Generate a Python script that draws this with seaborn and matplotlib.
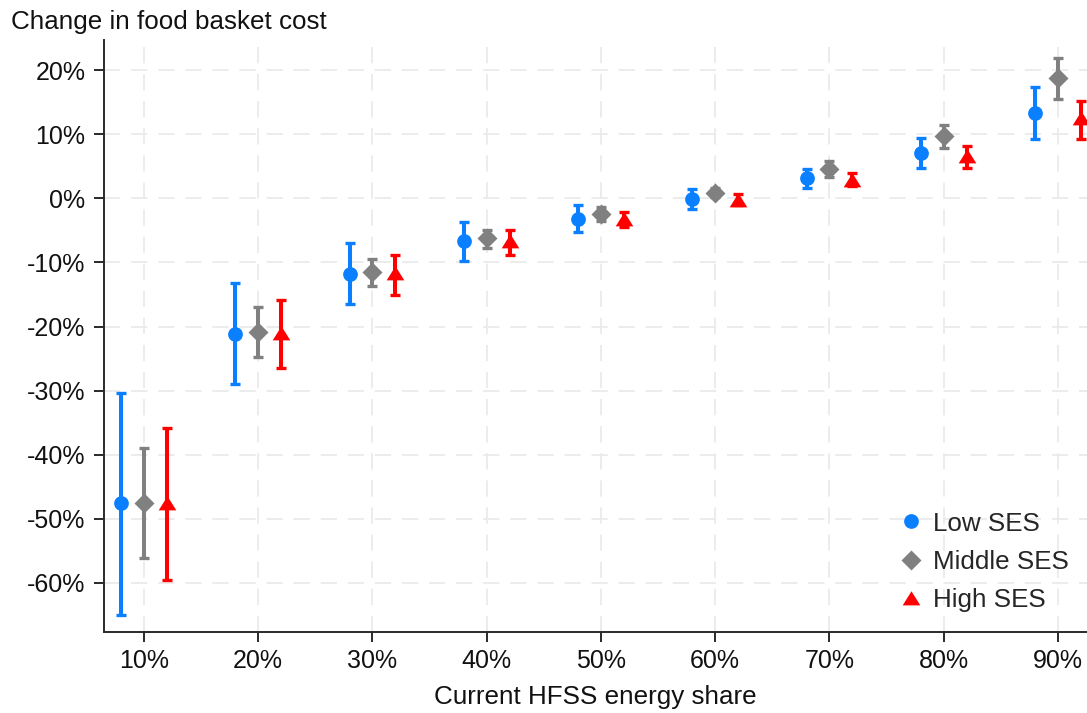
import numpy as np
import pandas as pd
import matplotlib
matplotlib.use("Agg")
import matplotlib.pyplot as plt
import seaborn as sns
from matplotlib.lines import Line2D

# ---- data (percent) ----
shares = [10, 20, 30, 40, 50, 60, 70, 80, 90]
groups = ["Low SES", "Middle SES", "High SES"]

low_est = [-47.6, -21.1, -11.8, -6.7, -3.2, -0.1, 3.1, 7.0, 13.3]
low_lo = [-65.0, -29.0, -16.5, -9.8, -5.2, -1.6, 1.6, 4.8, 9.2]
low_hi = [-30.4, -13.2, -7.0, -3.7, -1.1, 1.4, 4.6, 9.4, 17.4]

mid_est = [-47.5, -20.9, -11.5, -6.2, -2.5, 0.9, 4.6, 9.7, 18.8]
mid_lo = [-56.1, -24.8, -13.7, -7.7, -3.6, 0.2, 3.4, 7.9, 15.5]
mid_hi = [-39.0, -17.0, -9.4, -4.9, -1.3, 1.6, 5.8, 11.4, 21.9]

high_est = [-47.6, -21.0, -11.6, -6.6, -3.2, -0.2, 2.9, 6.6, 12.5]
high_lo = [-59.5, -26.5, -15.0, -8.8, -4.4, -1.0, 1.9, 4.8, 9.3]
high_hi = [-35.8, -15.8, -8.8, -4.9, -2.1, 0.7, 3.9, 8.2, 15.2]

x_ticks = [10, 20, 30, 40, 50, 60, 70, 80, 90]
y_ticks = [-60, -50, -40, -30, -20, -10, 0, 10, 20]

# ---- build table ----
rows = []
for g, est, lo, hi in zip(groups, [low_est, mid_est, high_est],
                          [low_lo, mid_lo, high_lo], [low_hi, mid_hi, high_hi]):
    for s, e, l, h in zip(shares, est, lo, hi):
        rows.append(dict(share=s, group=g, est=e, lo=l, hi=h))
df = pd.DataFrame(rows)

dodge = {"Low SES": -2.0, "Middle SES": 0.0, "High SES": 2.0}
df["xpos"] = df["share"] + df["group"].map(dodge)

tri = [(-1.0, -0.78), (1.0, -0.78), (0.0, 0.82), (-1.0, -0.78)]
palette = {"Low SES": "#0A7FFF", "Middle SES": "#808080", "High SES": "#FF0000"}
markers = {"Low SES": "o", "Middle SES": "D", "High SES": tri}
msizes = {"Low SES": 10.6, "Middle SES": 10.2, "High SES": 12.7}

sns.set_theme(style="white")
plt.rcParams["font.family"] = ["Liberation Sans", "DejaVu Sans"]

FS_LAB = 18.7
FS_TICK = 18.0
TXT = "#111111"

fig = plt.figure(figsize=(10.87, 7.13), dpi=100)
ax = fig.add_axes([104 / 1087, 1 - 631.7 / 713, 1 - 104 / 1087, (631.7 - 40) / 713])

for g in groups:
    d = df[df["group"] == g]
    eb = ax.errorbar(d["xpos"], d["est"],
                     yerr=[d["est"] - d["lo"], d["hi"] - d["est"]],
                     fmt="none", ecolor=palette[g], elinewidth=2.9,
                     capsize=3.9, capthick=2.4, zorder=2)
    for art in eb.lines[1] + eb.lines[2]:
        art.set_clip_on(False)
    sns.scatterplot(data=d, x="xpos", y="est", color=palette[g],
                    marker=markers[g], s=msizes[g] ** 2, linewidth=0,
                    ax=ax, zorder=3, legend=False, clip_on=False)

ax.set_xlim(6.5, 92.54)
ax.set_ylim(-67.6, 24.7)
ax.set_xticks(x_ticks)
ax.set_xticklabels([f"{v}%" for v in x_ticks])
ax.set_yticks(y_ticks)
ax.set_yticklabels([f"{v}%" for v in y_ticks])

ax.grid(True, color="#EAEAEA", linestyle=(0, (9, 6)), linewidth=1.3, zorder=0)
ax.set_axisbelow(True)

for side in ["top", "right"]:
    ax.spines[side].set_visible(False)
for side in ["left", "bottom"]:
    ax.spines[side].set_color("#2a2a2a")
    ax.spines[side].set_linewidth(1.4)

ax.tick_params(axis="both", which="major", direction="out", length=7.3,
               width=1.4, color="#2a2a2a", labelsize=FS_TICK, labelcolor=TXT,
               left=True, bottom=True)
ax.tick_params(axis="x", pad=5)
ax.tick_params(axis="y", pad=6)

ax.set_xlabel("")
ax.set_ylabel("")
fig.text(0.5 * (104 + 1087) / 1087, 1 - 704 / 713, "Current HFSS energy share",
         fontsize=FS_LAB, color=TXT, ha="center", va="baseline")
fig.text(11 / 1087, 1 - 29.5 / 713, "Change in food basket cost", fontsize=FS_LAB,
         color=TXT, ha="left", va="baseline")

handles = [Line2D([0], [0], marker=markers[g], color="none",
                  markerfacecolor=palette[g], markeredgecolor="none",
                  markersize=msizes[g], linestyle="none")
           for g in groups]
ax.legend(handles, groups, loc="upper left", bbox_to_anchor=(0.810, 0.203),
          frameon=False, fontsize=FS_LAB, handletextpad=0.45, labelspacing=0.54,
          handlelength=0.8, borderaxespad=0.0, borderpad=0.0)

fig.savefig("out.png", dpi=100)
